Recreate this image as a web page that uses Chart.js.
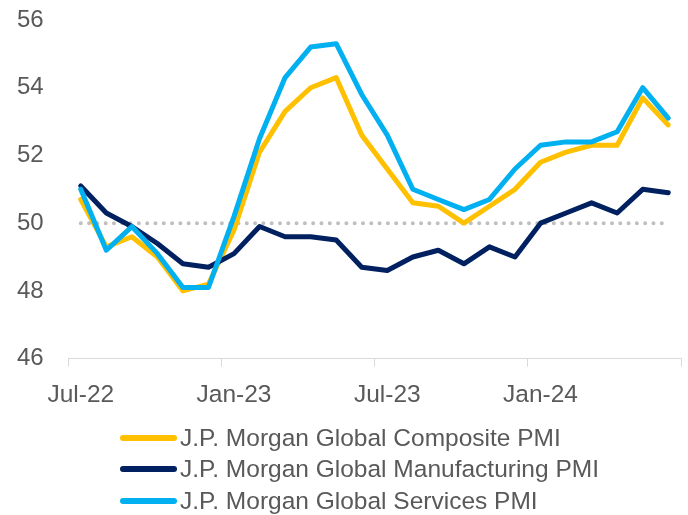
<!DOCTYPE html>
<html><head><meta charset="utf-8">
<script src="https://cdn.jsdelivr.net/npm/chart.js@4"></script>
<style>
html,body{margin:0;padding:0;background:#fff;}
#wrap{position:relative;width:688px;height:515px;}
#legend{position:absolute;left:120px;top:422px;font-family:"Liberation Sans",Arial,sans-serif;font-size:24.5px;color:#595959;}
.row{display:flex;align-items:center;height:31.6px;white-space:nowrap;}
.sw{width:57px;height:6px;border-radius:3px;margin-right:3px;flex:none;}
</style></head>
<body><div id="wrap"><canvas id="c" style="width:688px;height:515px"></canvas><div id="legend"></div></div>
<script>
const categories = ['Jul-22','Aug-22','Sep-22','Oct-22','Nov-22','Dec-22','Jan-23','Feb-23','Mar-23','Apr-23','May-23','Jun-23','Jul-23','Aug-23','Sep-23','Oct-23','Nov-23','Dec-23','Jan-24','Feb-24','Mar-24','Apr-24','May-24','Jun-24'];
const tickLabels = ['Jul-22','Jan-23','Jul-23','Jan-24'];
const yTicks = [46,48,50,52,54,56];
const seriesNames = ['J.P. Morgan Global Composite PMI','J.P. Morgan Global Manufacturing PMI','J.P. Morgan Global Services PMI'];
const composite = [50.7,49.3,49.6,49.0,48.0,48.2,49.8,52.1,53.3,54.0,54.3,52.6,51.6,50.6,50.5,50.0,50.5,51.0,51.8,52.1,52.3,52.3,53.7,52.9];
const manufacturing = [51.1,50.3,49.9,49.4,48.8,48.7,49.1,49.9,49.6,49.6,49.5,48.7,48.6,49.0,49.2,48.8,49.3,49.0,50.0,50.3,50.6,50.3,51.0,50.9];
const services = [51.0,49.2,49.9,49.1,48.1,48.1,50.2,52.5,54.3,55.2,55.3,53.8,52.6,51.0,50.7,50.4,50.7,51.6,52.3,52.4,52.4,52.7,54.0,53.1];
const threshold = categories.map(() => 50);

const colors = ['#FFC000','#002060','#00B0F0'];
const FONT = '"Liberation Sans", Arial, sans-serif';
const GRAY = '#595959';
const AXIS = '#D9D9D9';

const seriesData = [composite, manufacturing, services];
const orders = [2,1,0];
const datasets = seriesData.map((d,i) => ({
  label: seriesNames[i], data: d, borderColor: colors[i], backgroundColor: colors[i],
  borderWidth: 5, pointRadius: 0, tension: 0, borderJoinStyle: 'round', borderCapStyle: 'round', order: orders[i]
}));
datasets.push({label:'50', data: threshold, borderColor:'#BFBFBF', borderWidth:4, borderDash:[0,8.3], borderCapStyle:'round', pointRadius:0, order:3});

new Chart(document.getElementById('c'), {
  type: 'line',
  data: { labels: categories, datasets },
  options: {
    responsive: false, animation: false,
    layout: { padding: { left: 17, right: 7, top: 20, bottom: 92 } },
    plugins: { legend: { display: false }, tooltip: { enabled: false } },
    scales: {
      x: {
        type: 'category', offset: true,
        grid: { offset: true, drawOnChartArea: false, drawTicks: true, tickLength: 8, lineWidth: 1,
          color: ctx => (ctx.type !== 'tick' || ctx.index % 6 === 0) ? AXIS : 'rgba(0,0,0,0)' },
        border: { display: true, color: AXIS, width: 1 },
        ticks: { autoSkip: false, maxRotation: 0, padding: 13.5, color: GRAY, font: { family: FONT, size: 24.5 },
          callback: (v, i) => tickLabels.includes(categories[i]) ? categories[i] : '' }
      },
      y: {
        min: 46, max: 56,
        afterBuildTicks: s => { s.ticks = yTicks.map(v => ({ value: v })); },
        afterFit: s => { s.width = 51; s.paddingTop = 0; s.paddingBottom = 0; },
        grid: { display: false, drawTicks: false },
        border: { display: false },
        ticks: { padding: 0, crossAlign: 'far', color: GRAY, font: { family: FONT, size: 24 } }
      }
    }
  }
});

const lg = document.getElementById('legend');
seriesNames.forEach((n, i) => {
  const r = document.createElement('div'); r.className = 'row';
  const sw = document.createElement('span'); sw.className = 'sw'; sw.style.background = colors[i];
  const t = document.createElement('span'); t.textContent = n;
  r.appendChild(sw); r.appendChild(t); lg.appendChild(r);
});
</script>
</body></html>
